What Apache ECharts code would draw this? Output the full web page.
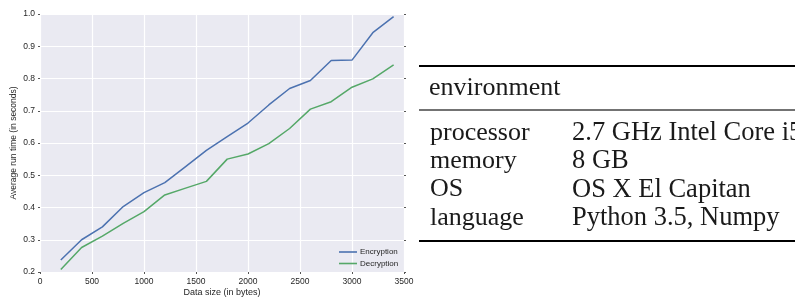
<!DOCTYPE html>
<html><head><meta charset="utf-8">
<script src="https://cdn.jsdelivr.net/npm/echarts@6/dist/echarts.min.js"></script>
<style>html,body{margin:0;padding:0;background:#fff}#c{width:795px;height:297px}</style>
</head><body><div id="c"></div>
<script>
const dataSizes = [200,400,600,800,1000,1200,1400,1600,1800,2000,2200,2400,2600,2800,3000,3200,3400];
const encryption = [0.237,0.300,0.340,0.403,0.446,0.477,0.527,0.577,0.620,0.662,0.718,0.769,0.794,0.856,0.857,0.942,0.992];
const decryption = [0.208,0.276,0.311,0.351,0.387,0.439,0.460,0.481,0.550,0.566,0.598,0.645,0.705,0.728,0.773,0.799,0.842];
const seriesNames = ['Encryption','Decryption'];
const tableHeader = 'environment';
const tableKeys = ['processor','memory','OS','language'];
const tableValues = ['2.7 GHz Intel Core i5','8 GB','OS X El Capitan','Python 3.5, Numpy'];

const chart = echarts.init(document.getElementById('c'), null, {renderer:'canvas'});
const sans = 'Liberation Sans, Arial, sans-serif';
const serif = 'Liberation Serif, Times New Roman, serif';
const txt = '#262626';

const graphics = [];
graphics.push({type:'line', shape:{x1:419,y1:66,x2:800,y2:66}, style:{stroke:'#000',lineWidth:2}});
graphics.push({type:'line', shape:{x1:419,y1:110,x2:800,y2:110}, style:{stroke:'#444',lineWidth:1.4}});
graphics.push({type:'line', shape:{x1:419,y1:241,x2:800,y2:241}, style:{stroke:'#000',lineWidth:2}});
graphics.push({type:'text', x:429, y:88, style:{text:tableHeader, font:'26px '+serif, fill:'#1a1a1a', verticalAlign:'middle', align:'left'}});
tableKeys.forEach((k,i)=>{
  const y = 133 + i*28.3;
  graphics.push({type:'text', x:430, y:y, style:{text:k, font:'26px '+serif, fill:'#1a1a1a', verticalAlign:'middle', align:'left'}});
  graphics.push({type:'text', x:572, y:y, style:{text:tableValues[i], font:'26.5px '+serif, fill:'#1a1a1a', verticalAlign:'middle', align:'left'}});
});

const option = {
  backgroundColor:'#fff',
  animation:false,
  grid:{left:40, top:14, width:364, height:258, show:true, backgroundColor:'#EAEAF2', borderWidth:0, containLabel:false, outerBoundsMode:'none'},
  legend:{
    orient:'vertical', left:334, top:243, itemWidth:18, itemHeight:1.6, itemGap:3.5,
    icon:'rect',
    textStyle:{fontFamily:sans, fontSize:8, color:txt, padding:[0,0,0,-2]},
    data:seriesNames
  },
  xAxis:{
    type:'value', min:0, max:3500, interval:500,
    name:'Data size (in bytes)', nameLocation:'middle', nameGap:16, nameMoveOverlap:false,
    nameTextStyle:{fontFamily:sans, fontSize:9, color:txt},
    axisLine:{show:false},
    axisTick:{show:true, length:2, lineStyle:{color:'#555', width:1}},
    axisLabel:{fontFamily:sans, fontSize:8.5, color:txt, margin:5, formatter:v=>String(v)},
    splitLine:{show:true, lineStyle:{color:'#fff', width:1.2}}
  },
  yAxis:[{
    type:'value', min:0.2, max:1.0, interval:0.1,
    name:'Average run time (in seconds)', nameLocation:'middle', nameGap:21.5, nameMoveOverlap:false,
    nameTextStyle:{fontFamily:sans, fontSize:8.5, color:txt},
    axisLine:{show:false},
    axisTick:{show:true, length:2, lineStyle:{color:'#555', width:1}},
    axisLabel:{fontFamily:sans, fontSize:8.5, color:txt, margin:5, formatter:v=>v.toFixed(1)},
    splitLine:{show:true, lineStyle:{color:'#fff', width:1.2}}
  },{
    type:'value', min:0.2, max:1.0, interval:0.1, position:'right',
    axisLine:{show:false},
    axisTick:{show:true, length:2, inside:false, lineStyle:{color:'#555', width:1}},
    axisLabel:{show:false}, splitLine:{show:false}
  }],
  series:[
    {name:seriesNames[0], type:'line', data:dataSizes.map((x,i)=>[x,encryption[i]]), symbol:'none',
     lineStyle:{color:'#4C72B0', width:1.5}, itemStyle:{color:'#4C72B0'}},
    {name:seriesNames[1], type:'line', data:dataSizes.map((x,i)=>[x,decryption[i]]), symbol:'none',
     lineStyle:{color:'#55A868', width:1.5}, itemStyle:{color:'#55A868'}}
  ],
  graphic:graphics
};
chart.setOption(option);
</script></body></html>
